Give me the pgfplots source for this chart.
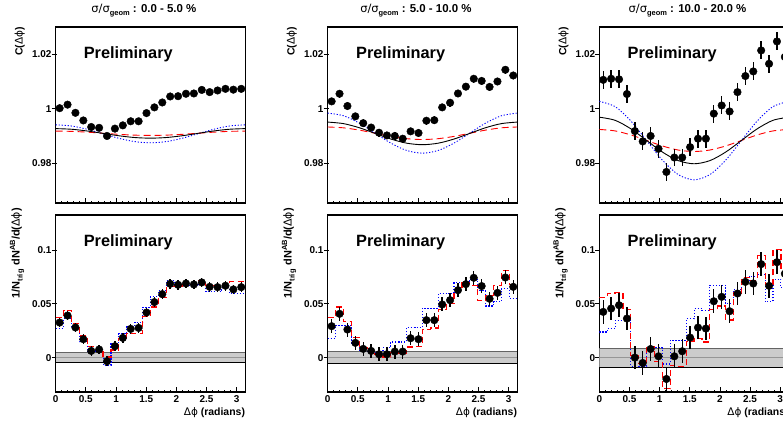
\documentclass[border=0pt]{standalone}
\usepackage{fontspec}
\setmainfont{Liberation Sans}
\newfontfamily\symf{DejaVu Sans}
\usepackage{pgfplots}
\usepackage{pgfplotstable}
\pgfplotsset{compat=1.18}

\newcommand\tl{\fontsize{10}{12}\selectfont\bfseries}
\newcommand\dphi{{\mdseries\symf Δϕ}}
\newcommand\prelim{\fontsize{16.4}{18}\selectfont\bfseries Preliminary}
\newcommand\ttl[1]{{\mdseries\symf σ/σ}\raisebox{-0.45ex}{\fontsize{7.5}{8}\selectfont geom} : #1}
\newcommand\ylabtop{C(\dphi)}
\newcommand\ylabbot{1/N\raisebox{-0.5ex}{\fontsize{7.5}{8}\selectfont trig}\hspace{4bp}dN\raisebox{0.8ex}{\fontsize{7.5}{8}\selectfont AB}/d(\dphi)}

% points: bin centres, correlation C and per-trigger yield
\pgfplotstableread{
x      c      ce     y       ye
0.0654 1.0002 0.0006 0.0326  0.0045
0.1963 1.0015 0.0006 0.0391  0.0045
0.3272 0.9985 0.0006 0.0280  0.0045
0.4581 0.9957 0.0006 0.0171  0.0045
0.5890 0.9933 0.0006 0.0062  0.0045
0.7199 0.9930 0.0006 0.0075  0.0045
0.8508 0.9900 0.0006 -0.0034 0.0045
0.9817 0.9927 0.0006 0.0106  0.0045
1.1126 0.9939 0.0006 0.0183  0.0045
1.2435 0.9954 0.0006 0.0267  0.0045
1.3744 0.9954 0.0006 0.0276  0.0045
1.5053 0.9984 0.0006 0.0419  0.0045
1.6362 1.0005 0.0006 0.0516  0.0045
1.7671 1.0023 0.0006 0.0590  0.0045
1.8980 1.0045 0.0006 0.0686  0.0045
2.0289 1.0046 0.0006 0.0677  0.0045
2.1598 1.0055 0.0006 0.0689  0.0045
2.2907 1.0056 0.0006 0.0680  0.0045
2.4216 1.0069 0.0006 0.0699  0.0045
2.5525 1.0061 0.0006 0.0658  0.0045
2.6834 1.0067 0.0006 0.0655  0.0045
2.8143 1.0073 0.0006 0.0668  0.0045
2.9452 1.0070 0.0006 0.0634  0.0045
3.0761 1.0073 0.0006 0.0655  0.0045
}\dataA
\pgfplotstableread{
x      c      ce     y       ye
0.0654 1.0027 0.0014 0.0292  0.0065
0.1963 1.0055 0.0014 0.0407  0.0065
0.3272 1.0010 0.0014 0.0261  0.0065
0.4581 0.9972 0.0014 0.0137  0.0065
0.5890 0.9947 0.0014 0.0081  0.0065
0.7199 0.9931 0.0014 0.0062  0.0065
0.8508 0.9912 0.0014 0.0031  0.0065
0.9817 0.9902 0.0014 0.0031  0.0065
1.1126 0.9900 0.0014 0.0056  0.0065
1.2435 0.9890 0.0014 0.0056  0.0065
1.3744 0.9917 0.0014 0.0180  0.0065
1.5053 0.9911 0.0014 0.0171  0.0065
1.6362 0.9956 0.0014 0.0348  0.0065
1.7671 0.9958 0.0014 0.0348  0.0065
1.8980 1.0005 0.0014 0.0494  0.0065
2.0289 1.0022 0.0014 0.0534  0.0065
2.1598 1.0056 0.0014 0.0627  0.0065
2.2907 1.0081 0.0014 0.0683  0.0065
2.4216 1.0110 0.0014 0.0742  0.0065
2.5525 1.0102 0.0014 0.0665  0.0065
2.6834 1.0080 0.0014 0.0547  0.0065
2.8143 1.0100 0.0014 0.0602  0.0065
2.9452 1.0143 0.0014 0.0745  0.0065
3.0761 1.0122 0.0014 0.0658  0.0065
}\dataB
\pgfplotstableread{
x      c      ce     y       ye
0.0654 1.0106 0.0033 0.0425  0.011
0.1963 1.0110 0.0033 0.0456  0.011
0.3272 1.0108 0.0033 0.0487  0.011
0.4581 1.0054 0.0033 0.0363  0.011
0.5890 0.9918 0.0033 0.0000  0.011
0.7199 0.9880 0.0033 -0.0050 0.011
0.8508 0.9900 0.0033 0.0080  0.011
0.9817 0.9853 0.0033 0.0012  0.011
1.1126 0.9768 0.0033 -0.0199 0.011
1.2435 0.9821 0.0033 0.0012  0.011
1.3744 0.9821 0.0033 0.0059  0.011
1.5053 0.9859 0.0033 0.0186  0.011
1.6362 0.9890 0.0033 0.0279  0.011
1.7671 0.9890 0.0033 0.0270  0.011
1.8980 0.9982 0.0033 0.0524  0.011
2.0289 1.0012 0.0033 0.0565  0.011
2.1598 0.9990 0.0033 0.0431  0.011
2.2907 1.0061 0.0033 0.0596  0.011
2.4216 1.0120 0.0033 0.0704  0.011
2.5525 1.0137 0.0033 0.0689  0.011
2.6834 1.0214 0.0033 0.0869  0.011
2.8143 1.0165 0.0033 0.0667  0.011
2.9452 1.0247 0.0033 0.0887  0.011
3.0761 1.0190 0.0033 0.0780  0.011
}\dataC

% systematic variations, by bin left edge
\pgfplotstableread{
e      ra      ba      rb      bb      rc      bc
0.0000 0.0373  0.0270  0.0372  0.0177  0.0559  0.0238
0.1309 0.0440  0.0363  0.0471  0.0300  0.0596  0.0270
0.2618 0.0317  0.0270  0.0332  0.0300  0.0602  0.0347
0.3927 0.0200  0.0146  0.0190  0.0120  0.0450  0.0347
0.5236 0.0100  0.0053  0.0090  0.0060  0.0020  -0.0080
0.6545 0.0085  0.0065  0.0060  0.0050  -0.0055 -0.0080
0.7854 0.0006  -0.0070 0.0030  0.0040  0.0102  0.0105
0.9163 0.0070  0.0130  0.0006  0.0090  -0.0040 0.0093
1.0472 0.0177  0.0220  0.0050  0.0145  -0.0290 -0.0060
1.1781 0.0224  0.0286  0.0040  0.0145  -0.0070 0.0160
1.3090 0.0224  0.0330  0.0099  0.0280  -0.0080 0.0160
1.4399 0.0380  0.0470  0.0100  0.0280  0.0146  0.0360
1.5708 0.0470  0.0565  0.0262  0.0460  0.0180  0.0456
1.7017 0.0560  0.0627  0.0276  0.0460  0.0145  0.0440
1.8326 0.0658  0.0720  0.0450  0.0596  0.0450  0.0673
1.9635 0.0665  0.0680  0.0500  0.0600  0.0480  0.0673
2.0944 0.0705  0.0674  0.0620  0.0695  0.0350  0.0500
2.2253 0.0690  0.0674  0.0700  0.0700  0.0600  0.0630
2.3562 0.0714  0.0680  0.0670  0.0730  0.0745  0.0700
2.4871 0.0674  0.0612  0.0530  0.0620  0.0720  0.0750
2.6180 0.0674  0.0612  0.0580  0.0480  0.0950  0.0770
2.7489 0.0680  0.0650  0.0670  0.0520  0.0680  0.0520
2.8798 0.0705  0.0596  0.0810  0.0640  0.1005  0.0730
3.0107 0.0705  0.0596  0.0680  0.0550  0.0800  0.0650
3.1416 0.0705  0.0596  0.0680  0.0550  0.0800  0.0650
}\sys

% flow curves read off the top panels
\pgfplotstableread{
x      ka      ra      ua      kb      rb      ub      kc      rc      uc
0.0000 0.99270 0.99180 0.99410 0.99510 0.99330 0.99840 0.99690 0.99240 1.00270
0.2618 0.99247 0.99169 0.99366 0.99454 0.99299 0.99742 0.99575 0.99186 1.00077
0.5236 0.99183 0.99140 0.99245 0.99303 0.99215 0.99473 0.99263 0.99038 0.99550
0.7854 0.99095 0.99100 0.99080 0.99095 0.99100 0.99105 0.98835 0.98835 0.98830
1.0472 0.99008 0.99060 0.98915 0.98888 0.98985 0.98738 0.98408 0.98633 0.98110
1.3090 0.98943 0.99031 0.98794 0.98736 0.98901 0.98469 0.98095 0.98484 0.97583
1.5708 0.98920 0.99020 0.98750 0.98680 0.98870 0.98370 0.97980 0.98430 0.97390
1.8326 0.98943 0.99031 0.98794 0.98736 0.98901 0.98469 0.98095 0.98484 0.97583
2.0944 0.99008 0.99060 0.98915 0.98888 0.98985 0.98738 0.98408 0.98633 0.98110
2.3562 0.99095 0.99100 0.99080 0.99095 0.99100 0.99105 0.98835 0.98835 0.98830
2.6180 0.99183 0.99140 0.99245 0.99303 0.99215 0.99473 0.99263 0.99038 0.99550
2.8798 0.99247 0.99169 0.99366 0.99454 0.99299 0.99742 0.99575 0.99186 1.00077
3.1416 0.99270 0.99180 0.99410 0.99510 0.99330 0.99840 0.99690 0.99240 1.00270
}\fits

\definecolor{bandfill}{RGB}{204,204,204}
\definecolor{bandtop}{RGB}{100,100,100}
\definecolor{bandmid}{RGB}{150,150,150}

\pgfplotsset{
  panel/.style={scale only axis, width=189.5bp, xmin=0, xmax=3.1416,
    anchor=north west, clip mode=individual,
    axis line style={line width=1.1bp},
    tick style={black, line width=0.8bp},
    major tick length=5bp, minor tick length=2.5bp,
    tick align=inside, xtick pos=bottom, ytick pos=left,
    xtick={0,0.5,1,1.5,2,2.5,3}, minor x tick num=4,
    y tick style={xshift=-4bp},
    tick label style={font=\tl},
    yticklabel style={inner sep=0pt, xshift=-4bp},
    xticklabel style={inner sep=0pt, yshift=-3bp}},
  toppanel/.style={panel, height=176bp, ymin=0.9654, ymax=1.0300,
    ytick={0.98,1,1.02}, yticklabels={0.98,1,1.02}, xticklabels={}},
  botpanel/.style={panel, height=177bp, ymin=-0.032, ymax=0.1326,
    ytick={0,0.05,0.1}, yticklabels={0,0.05,0.1},
    xticklabels={0,0.5,1,1.5,2,2.5,3}},
  pts/.style={only marks, mark=*, mark size=3.8bp, black,
    error bars/.cd, y dir=both, y explicit, error mark=none,
    error bar style={line width=1.4bp, black}},
  fk/.style={black, line width=0.9bp, smooth, no marks},
  fr/.style={red, line width=0.9bp, smooth, no marks, dash pattern=on 7bp off 4bp},
  fu/.style={blue, line width=0.9bp, smooth, no marks, dash pattern=on 1.2bp off 1.8bp},
  sr/.style={red, line width=1.2bp, const plot mark left, no marks, dash pattern=on 6bp off 3.5bp},
  su/.style={blue, line width=1.1bp, const plot mark left, no marks, dash pattern=on 1.2bp off 1.8bp},
}
\tikzset{
  ttlstyle/.style={font=\fontsize{11.5}{13}\selectfont\bfseries, xshift=-6.5bp, yshift=14bp, anchor=base},
  ylt/.style={font=\fontsize{10.5}{12}\selectfont\bfseries, xshift=-33bp, rotate=90, anchor=base east, inner sep=0pt},
  ylb/.style={font=\fontsize{11}{12}\selectfont\bfseries, xshift=-36bp, yshift=7bp, rotate=90, anchor=base east, inner sep=0pt},
  xlb/.style={font=\fontsize{10.5}{12}\selectfont\bfseries, yshift=-23bp, anchor=base east, inner sep=0pt},
}

\begin{document}
\begin{tikzpicture}
\path[use as bounding box] (0,0) rectangle (783bp,-423bp);
\clip (0,0) rectangle (783bp,-423bp);

% ---------------- column 1 : 0-5 %
\begin{axis}[toppanel, at={(55.7bp,-27bp)}]
  \addplot[fu] table[x=x, y=ua] {\fits};
  \addplot[fr] table[x=x, y=ra] {\fits};
  \addplot[fk] table[x=x, y=ka] {\fits};
  \addplot[pts] table[x=x, y=c, y error=ce] {\dataA};
  \node[anchor=base west, inner sep=0pt] at (rel axis cs:0.147,0.821) {\prelim};
  \node[ttlstyle] at (rel axis cs:0.5,1) {\ttl{0.0 - 5.0 \%}};
  \node[ylt] at (rel axis cs:0,1) {\ylabtop};
\end{axis}
\begin{axis}[botpanel, at={(55.7bp,-215bp)}]
  \addplot[fill=bandfill, draw=none] coordinates {(0,-0.0044) (3.1416,-0.0044) (3.1416,0.0044) (0,0.0044)} -- cycle;
  \addplot[bandtop, line width=1bp] coordinates {(0,0.0044) (3.1416,0.0044)};
  \addplot[bandmid, line width=0.8bp] coordinates {(0,0) (3.1416,0)};
  \addplot[black, line width=1bp] coordinates {(0,-0.0044) (3.1416,-0.0044)};
  \addplot[su] table[x=e, y=ba] {\sys};
  \addplot[sr] table[x=e, y=ra] {\sys};
  \addplot[pts] table[x=x, y=y, y error=ye] {\dataA};
  \node[anchor=base west, inner sep=0pt] at (rel axis cs:0.147,0.821) {\prelim};
  \node[ylb] at (rel axis cs:0,1) {\ylabbot};
  \node[xlb] at (rel axis cs:1,0) {\dphi{} (radians)};
\end{axis}

% ---------------- column 2 : 5-10 %
\begin{axis}[toppanel, at={(327.7bp,-27bp)}]
  \addplot[fu] table[x=x, y=ub] {\fits};
  \addplot[fr] table[x=x, y=rb] {\fits};
  \addplot[fk] table[x=x, y=kb] {\fits};
  \addplot[pts] table[x=x, y=c, y error=ce] {\dataB};
  \node[anchor=base west, inner sep=0pt] at (rel axis cs:0.149,0.821) {\prelim};
  \node[ttlstyle] at (rel axis cs:0.5,1) {\ttl{5.0 - 10.0 \%}};
  \node[ylt] at (rel axis cs:0,1) {\ylabtop};
\end{axis}
\begin{axis}[botpanel, at={(327.7bp,-215bp)}]
  \addplot[fill=bandfill, draw=none] coordinates {(0,-0.0054) (3.1416,-0.0054) (3.1416,0.0054) (0,0.0054)} -- cycle;
  \addplot[bandtop, line width=1bp] coordinates {(0,0.0054) (3.1416,0.0054)};
  \addplot[bandmid, line width=0.8bp] coordinates {(0,0) (3.1416,0)};
  \addplot[black, line width=1bp] coordinates {(0,-0.0054) (3.1416,-0.0054)};
  \addplot[su] table[x=e, y=bb] {\sys};
  \addplot[sr] table[x=e, y=rb] {\sys};
  \addplot[pts] table[x=x, y=y, y error=ye] {\dataB};
  \node[anchor=base west, inner sep=0pt] at (rel axis cs:0.149,0.821) {\prelim};
  \node[ylb] at (rel axis cs:0,1) {\ylabbot};
  \node[xlb] at (rel axis cs:1,0) {\dphi{} (radians)};
\end{axis}

% ---------------- column 3 : 10-20 %
\begin{axis}[toppanel, at={(599.3bp,-27bp)}]
  \addplot[fu] table[x=x, y=uc] {\fits};
  \addplot[fr] table[x=x, y=rc] {\fits};
  \addplot[fk] table[x=x, y=kc] {\fits};
  \addplot[pts] table[x=x, y=c, y error=ce] {\dataC};
  \node[anchor=base west, inner sep=0pt] at (rel axis cs:0.149,0.821) {\prelim};
  \node[ttlstyle] at (rel axis cs:0.5,1) {\ttl{10.0 - 20.0 \%}};
  \node[ylt] at (rel axis cs:0,1) {\ylabtop};
\end{axis}
\begin{axis}[botpanel, at={(599.3bp,-215bp)}]
  \addplot[fill=bandfill, draw=none] coordinates {(0,-0.0088) (3.1416,-0.0088) (3.1416,0.0088) (0,0.0088)} -- cycle;
  \addplot[bandtop, line width=1bp] coordinates {(0,0.0088) (3.1416,0.0088)};
  \addplot[bandmid, line width=0.8bp] coordinates {(0,0) (3.1416,0)};
  \addplot[black, line width=1bp] coordinates {(0,-0.0088) (3.1416,-0.0088)};
  \addplot[su] table[x=e, y=bc] {\sys};
  \addplot[sr] table[x=e, y=rc] {\sys};
  \addplot[pts] table[x=x, y=y, y error=ye] {\dataC};
  \node[anchor=base west, inner sep=0pt] at (rel axis cs:0.149,0.821) {\prelim};
  \node[ylb] at (rel axis cs:0,1) {\ylabbot};
  \node[xlb] at (rel axis cs:1,0) {\dphi{} (radians)};
\end{axis}
\end{tikzpicture}
\end{document}
